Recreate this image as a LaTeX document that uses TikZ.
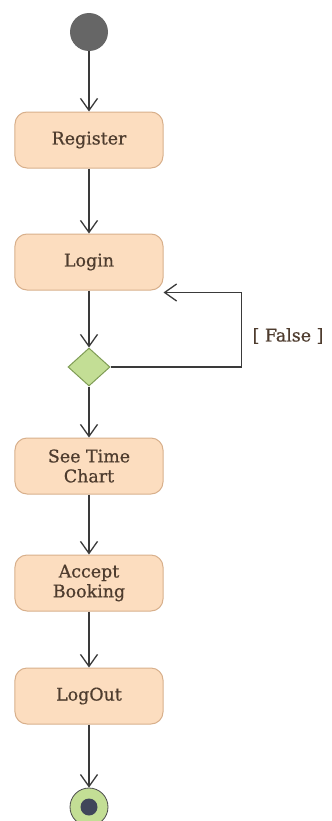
\documentclass[tikz,border=0pt]{standalone}
\usepackage{fontspec}
\setmainfont{DejaVu Serif}
\newfontfamily\boxfont[FakeBold=0.7]{DejaVu Serif}
\usetikzlibrary{shapes.geometric,arrows.meta,positioning}

\definecolor{boxfill}{HTML}{FCDDBF}
\definecolor{boxline}{HTML}{D8B08C}
\definecolor{txt}{HTML}{4E3C2E}
\definecolor{decfill}{HTML}{C3DE95}
\definecolor{decline}{HTML}{7F9C55}
\definecolor{flow}{HTML}{3A3A3A}
\definecolor{dot}{HTML}{40465A}

\tikzset{
  activity/.style={rectangle, rounded corners=12bp, draw=boxline, line width=1bp,
    fill=boxfill, minimum width=148bp, minimum height=56bp, align=center,
    text=txt, font=\boxfont\fontsize{17.5}{20}\selectfont},
  decision/.style={diamond, draw=decline, line width=1bp, fill=decfill,
    minimum width=42bp, minimum height=38bp, inner sep=0pt},
  flowline/.style={draw=flow, line width=1.3bp,
    -{Straight Barb[length=12bp,width=17bp,line width=1.3bp]}}
}

\begin{document}
\begin{tikzpicture}[x=1bp,y=-1bp]
\useasboundingbox (0,0) rectangle (331,821);

% Initial and final states
\node[circle, fill=black!60, minimum size=38bp, inner sep=0pt] (start) at (89,32) {};
\node[circle, draw=black!70, line width=0.8bp, fill=decfill, minimum size=38bp, inner sep=0pt] (stop) at (89,807) {};
\node[circle, fill=dot, minimum size=17bp, inner sep=0pt] (stopdot) at (stop) {};

% Activities
\node[activity] (register) at (89,140) {Register};
\node[activity] (login) at (89,262) {Login};
\node[decision] (check) at (89,367) {};
\node[activity] (chart) at (89,466) {See Time\\Chart};
\node[activity] (accept) at (89,583) {Accept\\Booking};
\node[activity] (logout) at (89,696) {LogOut};

% Flows
\draw[flowline] (start) -- (register);
\draw[flowline] (register) -- (login);
\draw[flowline] (login) -- (check);
\draw[flowline] (check) -- (chart);
\draw[flowline] (chart) -- (accept);
\draw[flowline] (accept) -- (logout);
\draw[flowline] (logout) -- (stop);

% Loop back on failure
\coordinate (back) at ([yshift=-2bp]login.south east);
\draw[flowline] (check.east) -| ([xshift=78bp]back) -- (back);
\node[text=txt, font=\boxfont\fontsize{17.5}{20}\selectfont] (false) at (288,336) {[ False ]};
\end{tikzpicture}
\end{document}
